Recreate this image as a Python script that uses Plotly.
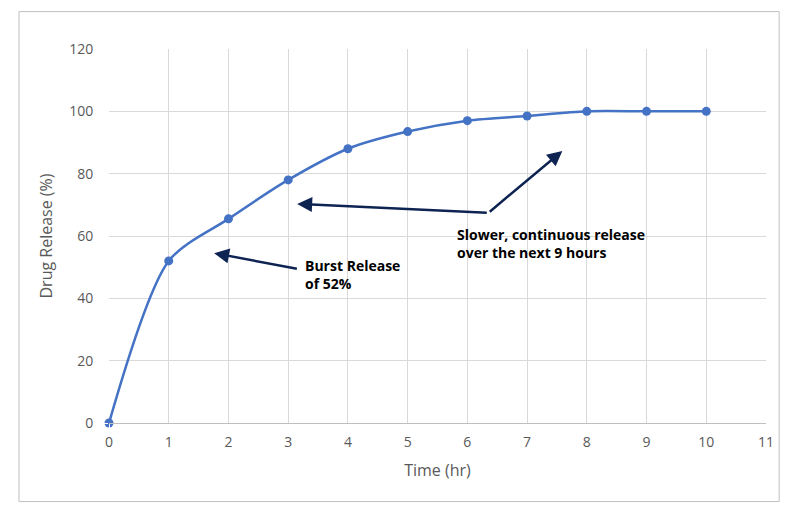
import plotly.graph_objects as go

time_hr = [0, 1, 2, 3, 4, 5, 6, 7, 8, 9, 10]
release = [0, 52, 65.5, 78, 88, 93.5, 97, 98.5, 100, 100, 100]

blue = "#4472C4"
navy = "#0D2352"

fig = go.Figure(go.Scatter(
    x=time_hr, y=release, mode="lines+markers",
    line=dict(color=blue, width=2.5, shape="spline", smoothing=0.8),
    marker=dict(color=blue, size=9),
    cliponaxis=False, showlegend=False,
))

# arrows: (tip x, tip y, tail x, tail y)
arrows = [(1.76, 54.5, 3.17, 49.4), (3.15, 70.3, 6.35, 67.4), (7.59, 87.3, 6.35, 67.4)]
for ax_, ay_, tx, ty in arrows:
    fig.add_annotation(x=ax_, y=ay_, ax=tx, ay=ty, xref="x", yref="y", axref="x", ayref="y",
                       showarrow=True, arrowhead=2, arrowsize=1.2, arrowwidth=2.5, arrowcolor=navy, text="")

fig.add_annotation(x=3.25, y=47.5, xref="x", yref="y", xanchor="left", showarrow=False, align="left",
                   text="<b>Burst Release<br>of 52%</b>", font=dict(size=14, color="black"))
fig.add_annotation(x=5.8, y=57.5, xref="x", yref="y", xanchor="left", showarrow=False, align="left",
                   text="<b>Slower, continuous release<br>over the next 9 hours</b>", font=dict(size=14, color="black"))

fig.add_shape(type="rect", xref="paper", yref="paper", x0=-0.137, x1=1.02, y0=-0.21, y1=1.10,
              line=dict(color="#BFBFBF", width=1))

fig.update_xaxes(range=[0, 11], dtick=1, showgrid=True, gridcolor="#D9D9D9", zeroline=False,
                 showline=True, linecolor="#BFBFBF", ticks="outside", ticklen=6, tickcolor="white",
                 tickfont=dict(size=14, color="#595959"),
                 title=dict(text="Time (hr)", font=dict(size=16, color="#595959")))
fig.update_yaxes(range=[0, 120], dtick=20, showgrid=True, gridcolor="#D9D9D9", zeroline=False,
                 ticks="outside", ticklen=12, tickcolor="white",
                 tickfont=dict(size=14, color="#595959"),
                 title=dict(text="Drug Release (%)", font=dict(size=16, color="#595959"), standoff=12))
fig.update_layout(width=808, height=521, margin=dict(l=101, r=50, t=41, b=106),
                  plot_bgcolor="white", paper_bgcolor="white",
                  font=dict(family="Open Sans"))
fig.write_html("out.html")
